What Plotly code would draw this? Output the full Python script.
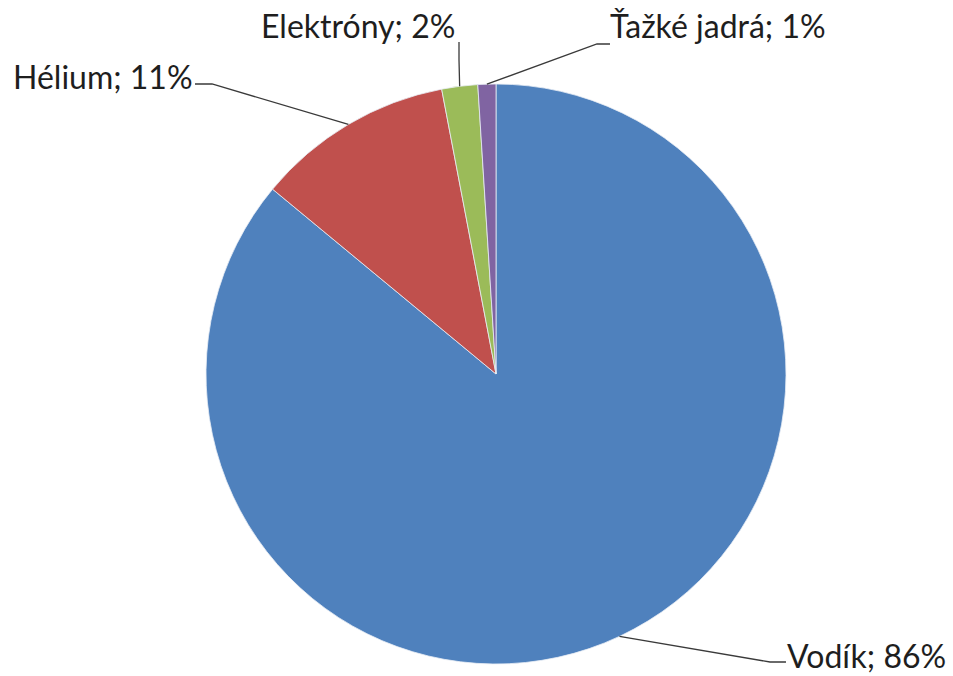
import math
import plotly.graph_objects as go

# ---- data ----
labels = ["Vodík", "Hélium", "Elektróny", "Ťažké jadrá"]
values = [86, 11, 2, 1]
colors = ["#4F81BD", "#C0504D", "#9BBB59", "#8064A2"]

W, H = 953, 676
CX, CY, R = 496, 374, 290  # pie centre / radius in pixels

# label layout: (elbow point, end of leader, text anchor point, xanchor) in pixels
label_layout = {
    "Vodík":       {"elbow": (770, 662), "end": (786, 662), "text": (785, 655), "xanchor": "left"},
    "Hélium":      {"elbow": (212, 84), "end": (195, 84), "text": (195, 77), "xanchor": "right"},
    "Elektróny":   {"elbow": (459, 60), "end": (459, 42), "text": (457, 25), "xanchor": "right"},
    "Ťažké jadrá": {"elbow": (597, 44), "end": (610, 44), "text": (608, 25), "xanchor": "left"},
}

def px(x):
    return x / W

def py(y):
    return 1 - y / H

fig = go.Figure(
    go.Pie(
        labels=labels,
        values=values,
        marker=dict(colors=colors, line=dict(color="#E8EEF5", width=0.8)),
        sort=False,
        direction="clockwise",
        rotation=0,
        textinfo="none",
        hoverinfo="label+percent",
        showlegend=False,
        domain=dict(x=[px(CX - R), px(CX + R)], y=[py(CY + R), py(CY - R)]),
    )
)

total = sum(values)
cum = 0
shapes = []
annotations = []
for lab, v in zip(labels, values):
    mid = (cum + v / 2) / total * 2 * math.pi
    cum += v
    ex = CX + R * math.sin(mid)
    ey = CY - R * math.cos(mid)
    L = label_layout[lab]
    pts = [(ex, ey), L["elbow"], L["end"]]
    path = "M " + " L ".join(f"{px(a):.5f},{py(b):.5f}" for a, b in pts)
    shapes.append(dict(type="path", path=path, xref="paper", yref="paper",
                       line=dict(color="#3a3a3a", width=1.3)))
    pct = round(v / total * 100)
    annotations.append(dict(
        text=f"{lab}; {pct}%", x=px(L["text"][0]), y=py(L["text"][1]),
        xref="paper", yref="paper", xanchor=L["xanchor"], yanchor="middle",
        showarrow=False, font=dict(size=32, color="#1e1e1e", family="Lato, 'Open Sans', sans-serif"),
    ))

fig.update_layout(
    width=W, height=H,
    margin=dict(l=0, r=0, t=0, b=0),
    paper_bgcolor="white", plot_bgcolor="white",
    shapes=shapes, annotations=annotations,
)

fig.write_html("out.html")
